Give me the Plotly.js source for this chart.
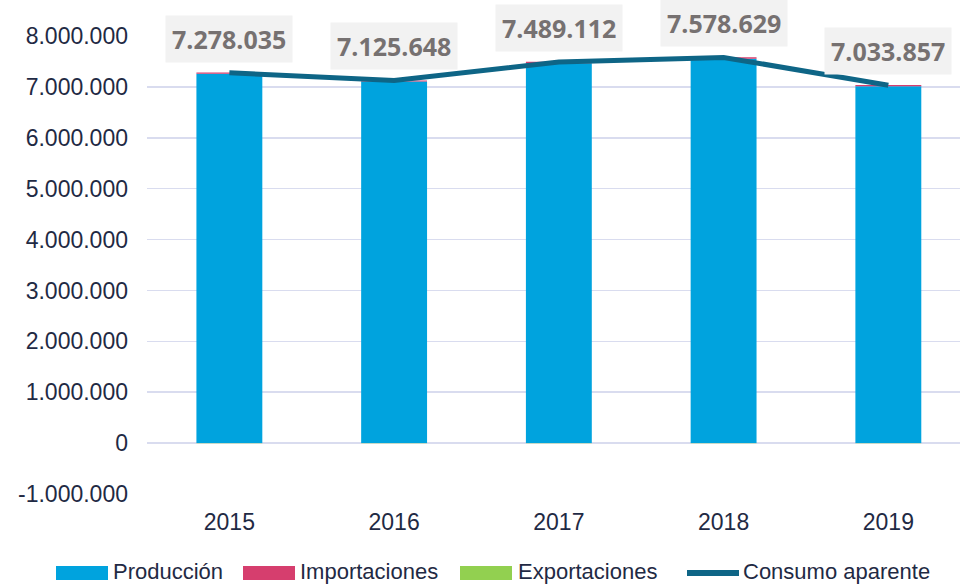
<!DOCTYPE html>
<html><head><meta charset="utf-8">
<script src="https://cdn.plot.ly/plotly-3.0.1.min.js"></script>
<style>html,body{margin:0;padding:0;background:#fff}#chart{width:960px;height:586px}</style>
</head><body><div id="chart"></div>
<script>
const years = ['2015','2016','2017','2018','2019'];
const produccion = [7256000, 7105000, 7466000, 7553000, 7012000];
const importaciones = [25000, 23000, 26000, 28000, 24000];
const exportaciones = [-3000, -2500, -3000, -2500, -2000];
const consumo = [7278035, 7125648, 7489112, 7578629, 7033857];
const consumoLabels = ['7.278.035','7.125.648','7.489.112','7.578.629','7.033.857'];
const yTickVals = [-1000000,0,1000000,2000000,3000000,4000000,5000000,6000000,7000000,8000000];
const yTickText = ['-1.000.000','0','1.000.000','2.000.000','3.000.000','4.000.000','5.000.000','6.000.000','7.000.000','8.000.000'];
const seriesNames = ['Producción','Importaciones','Exportaciones','Consumo aparente'];

const cBlue = '#00a3de', cPink = '#d63e6e', cGreen = '#92d050', cLine = '#0e6586';
const colors = [cBlue, cPink, cGreen, cLine];
const traces = [
  {type:'bar', name:seriesNames[0], x:years, y:produccion, marker:{color:cBlue}, width:0.4},
  {type:'bar', name:seriesNames[1], x:years, y:importaciones, marker:{color:cPink}, width:0.4},
  {type:'bar', name:seriesNames[2], x:years, y:exportaciones, marker:{color:cGreen}, width:0.4},
  {type:'scatter', name:seriesNames[3], mode:'lines', x:years, y:consumo, line:{color:cLine, width:5}, cliponaxis:false}
];
const M = {l:147, r:0, t:36, b:92}, W = 960, H = 586;
const pw = W - M.l - M.r, ph = H - M.t - M.b;
const px = p => (p - M.l) / pw;
const py = p => (H - M.b - p) / ph;

const annotations = consumo.map((v,i)=>({
  x: i, y: v, xref:'x', yref:'y', text: '<b>'+consumoLabels[i]+'</b>',
  showarrow:false, yshift:34, bgcolor:'#f2f2f2', borderpad:6,
  font:{family:'Open Sans', size:25, color:'#767171'}
}));
// manual legend
const legSym = [[56,108],[243,295],[460,512],[684,742]];
const legText = [112,299,517,742];
const legY = 573;
const shapes = [];
seriesNames.forEach((n,i)=>{
  if (i < 3) {
    shapes.push({type:'rect', xref:'paper', yref:'paper', x0:px(legSym[i][0]), x1:px(legSym[i][1]),
      y0:py(legY-7), y1:py(legY+7), fillcolor:colors[i], line:{width:0}});
  } else {
    shapes.push({type:'line', xref:'paper', yref:'paper', x0:px(legSym[i][0]+3), x1:px(legSym[i][1]-3),
      y0:py(legY), y1:py(legY), line:{color:colors[i], width:6}});
  }
  annotations.push({xref:'paper', yref:'paper', x:px(legText[i]), y:py(legY-2), xanchor:'left', yanchor:'middle',
    text:n, showarrow:false, borderpad:0,
    font:{family:'Liberation Sans, Arial, sans-serif', size:22, color:'#1f2a44'}});
});
const layout = {
  width:W, height:H, margin:M,
  paper_bgcolor:'#fff', plot_bgcolor:'#fff',
  barmode:'relative', showlegend:false,
  font:{family:'Liberation Sans, Arial, sans-serif', color:'#1f2a44', size:23},
  xaxis:{type:'category', range:[-0.5, 4.435], showgrid:false, zeroline:false, showline:false,
         ticks:'', ticklabelstandoff:12, tickfont:{size:23, color:'#1f2a44'}},
  yaxis:{range:[-1000000, 8000000], tickvals:yTickVals, ticktext:yTickText,
         gridcolor:'#d9dcef', gridwidth:1.5, zeroline:true, zerolinecolor:'#d9dcef', zerolinewidth:1.5,
         showline:false, ticks:'', ticklabelstandoff:18, tickfont:{size:23, color:'#1f2a44'}},
  annotations: annotations,
  shapes: shapes
};
Plotly.newPlot('chart', traces, layout, {displayModeBar:false, staticPlot:true});
</script></body></html>
